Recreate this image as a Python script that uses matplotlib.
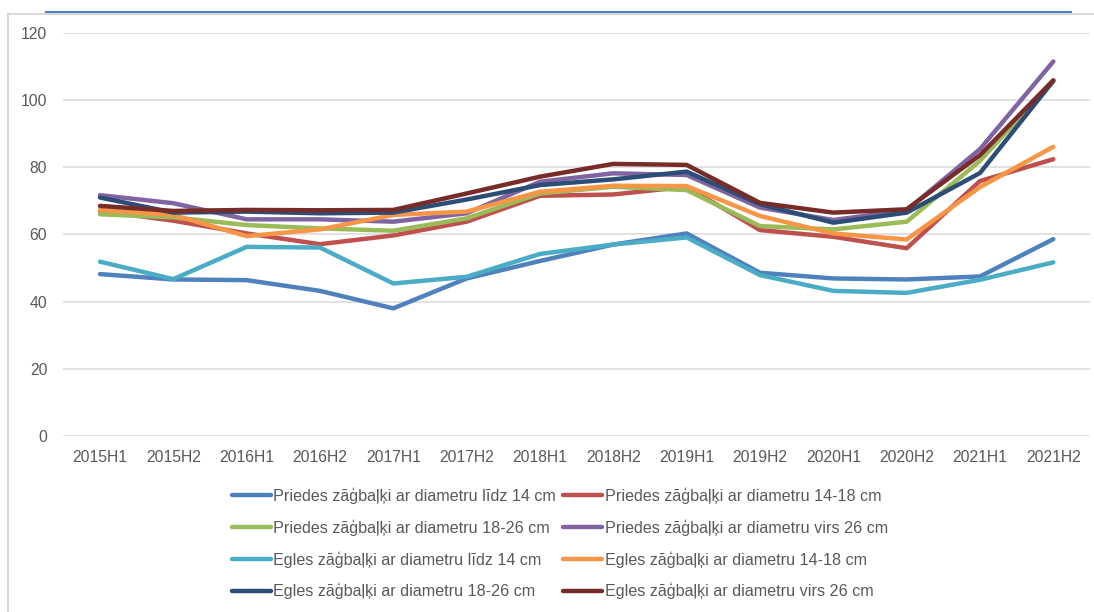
import matplotlib.pyplot as plt
from matplotlib.lines import Line2D

plt.rcParams['font.family'] = ['Liberation Sans', 'DejaVu Sans']

periods = ['2015H1', '2015H2', '2016H1', '2016H2', '2017H1', '2017H2', '2018H1',
           '2018H2', '2019H1', '2019H2', '2020H1', '2020H2', '2021H1', '2021H2']

priedes_14 = [48.2, 46.6, 46.4, 43.2, 38.0, 46.9, 52.1, 57.0, 60.3, 48.6, 46.9, 46.6, 47.5, 58.6]
priedes_14_18 = [67.0, 64.1, 60.3, 57.1, 59.7, 63.8, 71.5, 71.9, 74.2, 61.3, 59.3, 55.9, 75.9, 82.4]
priedes_18_26 = [66.0, 65.1, 62.8, 61.8, 61.1, 64.8, 72.2, 74.2, 73.2, 62.5, 61.5, 63.8, 81.9, 105.7]
priedes_26 = [71.7, 69.3, 64.5, 64.5, 63.8, 66.3, 75.7, 78.2, 77.7, 68.0, 64.3, 67.2, 85.4, 111.5]
egles_14 = [51.9, 46.7, 56.3, 56.1, 45.4, 47.4, 54.2, 57.0, 59.1, 47.9, 43.2, 42.6, 46.5, 51.7]
egles_14_18 = [67.3, 65.8, 59.5, 61.5, 65.8, 66.8, 72.7, 74.5, 74.4, 65.5, 60.3, 58.5, 74.1, 86.1]
egles_18_26 = [71.0, 66.5, 66.8, 66.3, 66.5, 70.4, 74.7, 76.4, 78.7, 69.0, 63.5, 66.5, 78.3, 105.7]
egles_26 = [68.5, 67.0, 67.3, 67.2, 67.3, 72.2, 77.2, 81.0, 80.7, 69.4, 66.5, 67.5, 83.6, 105.9]

labels = ['Priedes zāģbaļķi ar diametru līdz 14 cm', 'Priedes zāģbaļķi ar diametru 14-18 cm',
          'Priedes zāģbaļķi ar diametru 18-26 cm', 'Priedes zāģbaļķi ar diametru virs 26 cm',
          'Egles zāģbaļķi ar diametru līdz 14 cm', 'Egles zāģbaļķi ar diametru 14-18 cm',
          'Egles zāģbaļķi ar diametru 18-26 cm', 'Egles zāģbaļķi ar diametru virs 26 cm']
series = [priedes_14, priedes_14_18, priedes_18_26, priedes_26,
          egles_14, egles_14_18, egles_18_26, egles_26]
colors = ['#4F81BD', '#C0504D', '#9BBB59', '#8064A2',
          '#4BACC6', '#F79646', '#2C4D75', '#772C2A']

W, H = 1094, 612
fig = plt.figure(figsize=(W / 100, H / 100), dpi=100)
ax = fig.add_axes([63.3 / W, (H - 436) / H, (1090 - 63.3) / W, (436 - 32.9) / H])

x = range(len(periods))
lines = []
for vals, lab, col in zip(series, labels, colors):
    ln, = ax.plot(x, vals, color=col, lw=3.2, label=lab, solid_capstyle='round')
    lines.append(ln)

ax.set_xlim(-0.5, len(periods) - 0.5)
ax.set_ylim(0, 120)
ax.set_yticks(range(0, 121, 20))
ax.set_xticks(list(x))
ax.set_xticklabels(periods)
ax.grid(axis='y', color='#D9D9D9', lw=1.1)
ax.set_axisbelow(True)
for s in ax.spines.values():
    s.set_visible(False)
ax.tick_params(axis='both', length=0, labelsize=11.3, labelcolor='#595959')
ax.tick_params(axis='y', pad=11.5)
ax.tick_params(axis='x', pad=10)

# legend reads row by row, matplotlib fills column by column
order = [0, 2, 4, 6, 1, 3, 5, 7]
leg = fig.legend([lines[i] for i in order], [labels[i] for i in order],
                 loc='center', bbox_to_anchor=(560 / W, 1 - 543.5 / H), ncol=2,
                 frameon=False, fontsize=11.6, handlelength=2.4, handletextpad=0.15,
                 columnspacing=0.45, labelspacing=0.95)
for t in leg.get_texts():
    t.set_color('#595959')

# chart frame as in the source sheet
fig.add_artist(Line2D([7.5 / W, 1], [1 - 14 / H, 1 - 14 / H], color='#D9D9D9', lw=1.5))
fig.add_artist(Line2D([7.5 / W, 7.5 / W], [0, 1 - 14 / H], color='#D9D9D9', lw=1.5))
fig.add_artist(Line2D([46 / W, 1071 / W], [1 - 12 / H, 1 - 12 / H], color='#4F81BD', lw=1.5))

fig.savefig('out.png', dpi=100)
